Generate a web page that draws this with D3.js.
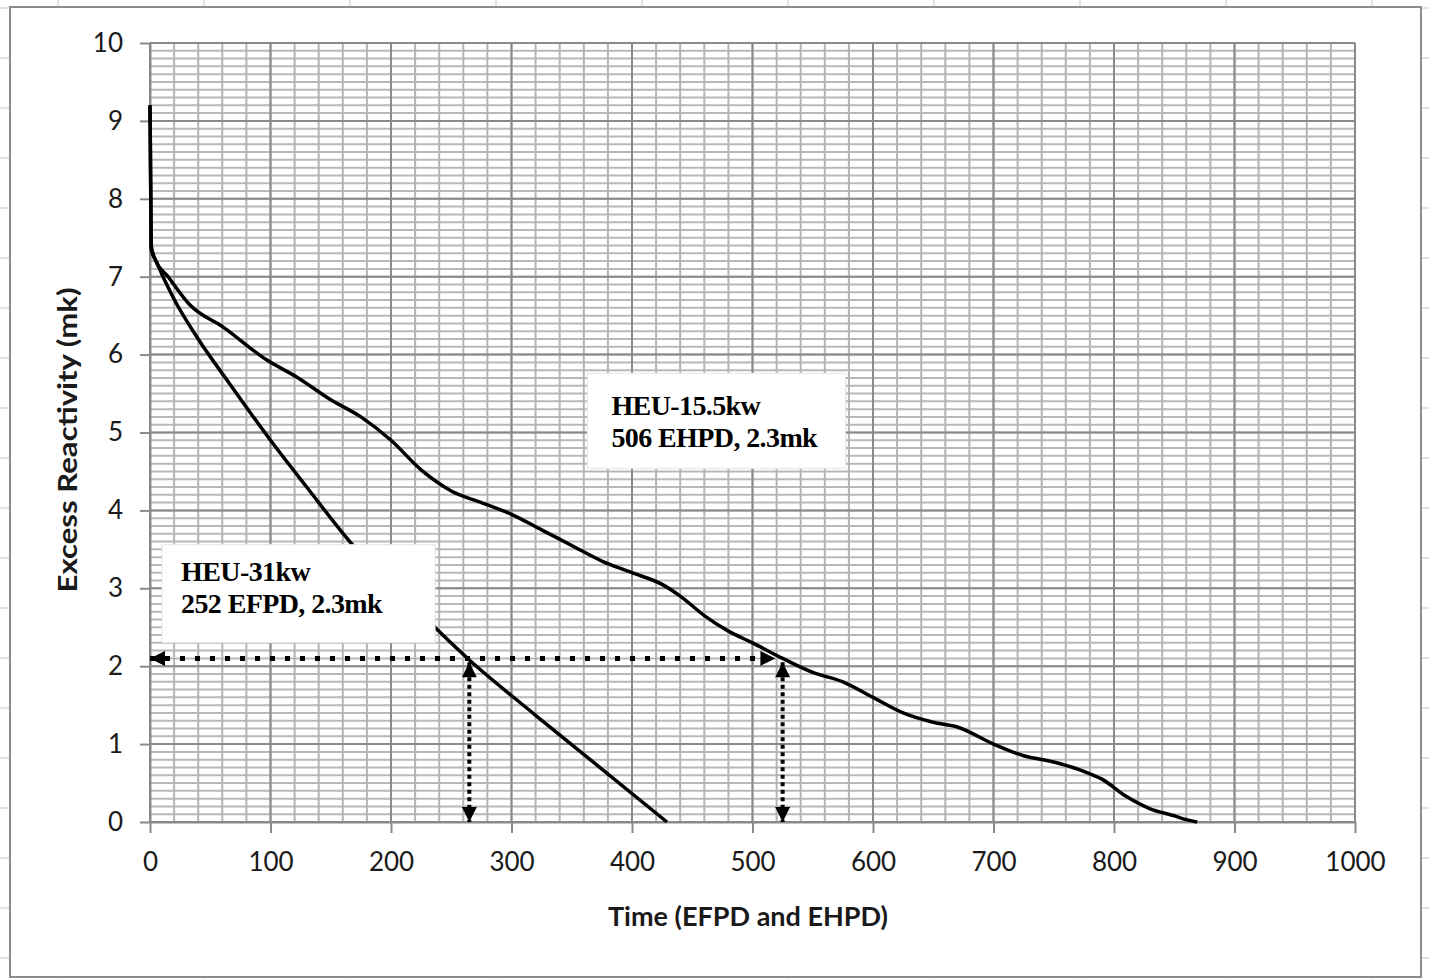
<!DOCTYPE html>
<html>
<head>
<meta charset="utf-8">
<script src="https://cdn.jsdelivr.net/npm/d3@7"></script>
<style>
  body { margin: 0; background: #fff; }
  svg { display: block; }
</style>
</head>
<body>
<svg id="chart" width="1429" height="979"></svg>
<script>
// data (t in EFPD / EHPD, reactivity in mk)
const heu31Time = [0, 1, 5, 19, 40, 64, 100, 130, 168, 210, 265, 320, 375, 429];
const heu31Mk = [9.2, 7.35, 7.2, 6.74, 6.2, 5.67, 4.9, 4.3, 3.56, 2.9, 2.08, 1.37, 0.68, 0];

const heu155Time = [0, 1, 5, 15, 33, 61, 97, 122, 150, 175, 200, 225, 250, 275, 300, 325, 350, 375, 400, 425, 440,
  460, 480, 500, 525, 550, 575, 600, 625, 650, 670, 700, 725, 750, 775, 790, 810, 830, 850, 860, 869];
const heu155Mk = [9.2, 7.4, 7.2, 7.0, 6.64, 6.35, 5.93, 5.71, 5.42, 5.2, 4.9, 4.52, 4.25, 4.1, 3.95, 3.75, 3.55, 3.35, 3.2, 3.05, 2.9,
  2.65, 2.45, 2.3, 2.1, 1.92, 1.8, 1.6, 1.4, 1.28, 1.22, 1.0, 0.85, 0.77, 0.65, 0.55, 0.33, 0.17, 0.08, 0.03, 0];

const xTicks = [0, 100, 200, 300, 400, 500, 600, 700, 800, 900, 1000];
const yTicks = [0, 1, 2, 3, 4, 5, 6, 7, 8, 9, 10];

// dotted arrows: [t1, mk1, t2, mk2]
const arrows = [
  [0, 2.1, 519, 2.1],
  [265, 2.05, 265, 0],
  [525, 2.05, 525, 0]
];

// annotation boxes, top-left corner in data units
const notes = [
  { t: 363, mk: 5.76, lines: ["HEU-15.5kw", "506 EHPD, 2.3mk"] },
  { t: 10, mk: 3.56, lines: ["HEU-31kw", "252 EFPD, 2.3mk"] }
];

const svg = d3.select("#chart");
const W = 1429, H = 979;

// spreadsheet cells behind the chart
const bg = svg.append("g");
bg.append("rect").attr("width", W).attr("height", H).attr("fill", "#fff");
bg.selectAll(".col").data(d3.range(58, W, 146)).enter().append("line")
  .attr("x1", d => d).attr("x2", d => d).attr("y1", 0).attr("y2", H)
  .attr("stroke", "#dadada").attr("stroke-width", 1.5);
bg.selectAll(".row").data(d3.range(8, H, 50)).enter().append("line")
  .attr("y1", d => d).attr("y2", d => d).attr("x1", 0).attr("x2", W)
  .attr("stroke", "#dadada").attr("stroke-width", 1.5);

// chart area
svg.append("rect").attr("x", 10).attr("y", 7).attr("width", 1411).attr("height", 970)
  .attr("fill", "#fff").attr("stroke", "#8c8c8c").attr("stroke-width", 2);

const x = d3.scaleLinear().domain([0, 1000]).range([150, 1355]);
const y = d3.scaleLinear().domain([0, 10]).range([822, 43]);

// gridlines
const grid = svg.append("g");
grid.selectAll(".hmin").data(d3.range(0, 100).map(i => i / 10)).enter().append("line")
  .attr("x1", x(0)).attr("x2", x(1000)).attr("y1", d => y(d)).attr("y2", d => y(d))
  .attr("stroke", "#b8b8b8").attr("stroke-width", 2);
grid.selectAll(".vmin").data(d3.range(0, 1000, 20)).enter().append("line")
  .attr("y1", y(0)).attr("y2", y(10)).attr("x1", d => x(d)).attr("x2", d => x(d))
  .attr("stroke", "#b4b4b4").attr("stroke-width", 2);
grid.selectAll(".hmaj").data(yTicks).enter().append("line")
  .attr("x1", x(0)).attr("x2", x(1000)).attr("y1", d => y(d)).attr("y2", d => y(d))
  .attr("stroke", "#8a8a8a").attr("stroke-width", 2);
grid.selectAll(".vmaj").data(xTicks).enter().append("line")
  .attr("y1", y(0)).attr("y2", y(10)).attr("x1", d => x(d)).attr("x2", d => x(d))
  .attr("stroke", "#8a8a8a").attr("stroke-width", 2);

// axes
const font = "Lato, 'Open Sans', sans-serif";
const gx = svg.append("g").attr("transform", "translate(0," + y(0) + ")")
  .call(d3.axisBottom(x).tickValues(xTicks).tickFormat(d3.format("d"))
    .tickSize(11).tickSizeOuter(0).tickPadding(20));
const gy = svg.append("g").attr("transform", "translate(" + x(0) + ",0)")
  .call(d3.axisLeft(y).tickValues(yTicks).tickSize(10).tickSizeOuter(0).tickPadding(17));
[gx, gy].forEach(g => {
  g.select(".domain").attr("stroke", "#8a8a8a").attr("stroke-width", 2);
  g.selectAll(".tick line").attr("stroke", "#8a8a8a").attr("stroke-width", 2);
  g.selectAll(".tick text").attr("font-family", font).attr("font-size", 26).attr("fill", "#1a1a1a");
});

svg.append("text").attr("x", 748).attr("y", 926).attr("text-anchor", "middle")
  .attr("font-family", font).attr("font-weight", "bold").attr("font-size", 27).attr("fill", "#1a1a1a")
  .attr("textLength", 280).attr("lengthAdjust", "spacingAndGlyphs")
  .text("Time (EFPD and EHPD)");
svg.append("text").attr("transform", "translate(77,440) rotate(-90)").attr("text-anchor", "middle")
  .attr("font-family", font).attr("font-weight", "bold").attr("font-size", 27).attr("fill", "#1a1a1a")
  .attr("textLength", 305).attr("lengthAdjust", "spacingAndGlyphs")
  .text("Excess Reactivity (mk)");

// curves
const line = d3.line().x(d => x(d[0])).y(d => y(d[1])).curve(d3.curveMonotoneX);
[[heu31Time, heu31Mk], [heu155Time, heu155Mk]].forEach(([ts, ms]) => {
  svg.append("path").datum(ts.map((t, i) => [t, ms[i]])).attr("d", line)
    .attr("fill", "none").attr("stroke", "#000").attr("stroke-width", 3.5)
    .attr("stroke-linejoin", "round");
});

// annotation boxes
const fontSerif = "'Liberation Serif', 'Times New Roman', serif";
const boxes = [
  { w: 258, h: 95, dx: 24, dy: 42 },
  { w: 273, h: 98, dx: 19, dy: 36 }
];
notes.forEach((n, i) => {
  const bx = x(n.t), by = y(n.mk), b = boxes[i];
  svg.append("rect").attr("x", bx).attr("y", by).attr("width", b.w).attr("height", b.h)
    .attr("fill", "#fff").attr("stroke", "#e6e6e6").attr("stroke-width", 1);
  n.lines.forEach((s, j) => {
    svg.append("text").attr("x", bx + b.dx).attr("y", by + b.dy + j * 32)
      .attr("font-family", fontSerif).attr("font-weight", "bold").attr("font-size", 28)
      .attr("letter-spacing", -0.6).attr("fill", "#000").text(s);
  });
});

// dotted arrows
const defs = svg.append("defs");
defs.append("marker").attr("id", "ah").attr("viewBox", "0 0 10 10").attr("refX", 10).attr("refY", 5)
  .attr("markerUnits", "userSpaceOnUse").attr("markerWidth", 18).attr("markerHeight", 15)
  .attr("orient", "auto-start-reverse")
  .append("path").attr("d", "M0,0L10,5L0,10Z").attr("fill", "#000");

arrows.forEach(a => {
  const horiz = a[1] === a[3];
  svg.append("line")
    .attr("x1", x(a[0])).attr("y1", y(a[1])).attr("x2", x(a[2])).attr("y2", y(a[3]))
    .attr("stroke", "#000").attr("stroke-width", horiz ? 5 : 4)
    .attr("stroke-dasharray", horiz ? "5,10" : "4,3.5")
    .attr("marker-start", "url(#ah)").attr("marker-end", "url(#ah)");
});
</script>
</body>
</html>
